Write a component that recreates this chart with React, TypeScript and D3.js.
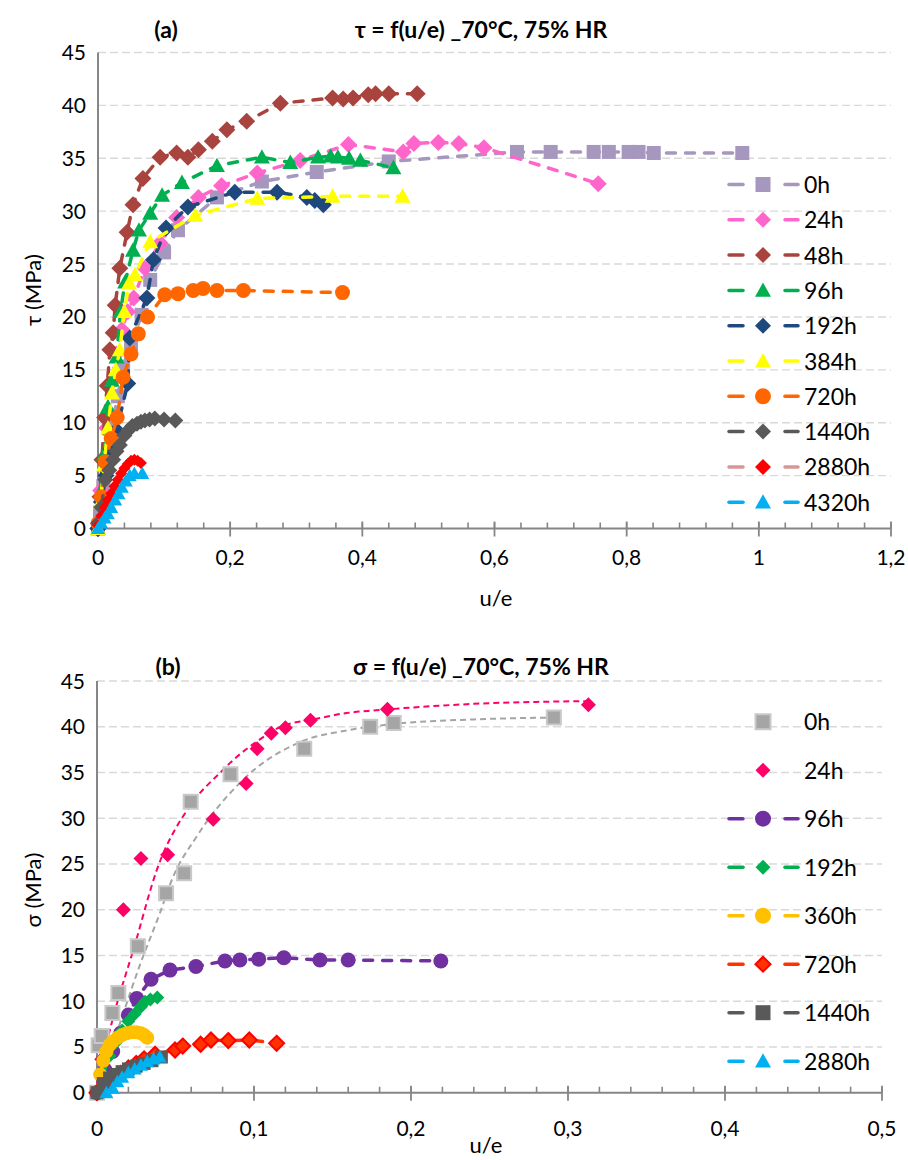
import React from "react";
import * as d3 from "d3";

type Pt = [number, number];

// ---------------- Panel (a): tau = f(u/e) ----------------
const aTitleTag = "(a)";
const aTitle = "τ = f(u/e) _70°C, 75% HR";
const aYTitle = "τ (MPa)";
const aXTicks = [0, 0.2, 0.4, 0.6, 0.8, 1, 1.2];
const aXMinorStep = 0.04;
const aYTicks = [0, 5, 10, 15, 20, 25, 30, 35, 40, 45];
const aLabels = ["0h", "24h", "48h", "96h", "192h", "384h", "720h", "1440h", "2880h", "4320h"];

const a0h: Pt[] = [[0,0],[0.003,1.5],[0.008,4],[0.015,7.5],[0.022,10],[0.03,12.5],[0.038,15.3],[0.05,17.5],[0.066,20.2],[0.079,23.5],[0.1,26.1],[0.121,28.2],[0.18,31.3],[0.248,32.8],[0.331,33.7],[0.44,34.7],[0.634,35.6],[0.685,35.6],[0.75,35.6],[0.773,35.6],[0.803,35.6],[0.818,35.6],[0.841,35.5],[0.975,35.5]];
const a24h: Pt[] = [[0,0],[0.004,3.6],[0.008,6.5],[0.013,9.5],[0.02,13.8],[0.028,16.5],[0.036,18.8],[0.045,20.5],[0.054,21.8],[0.071,24.6],[0.094,27.0],[0.119,29.4],[0.152,31.3],[0.187,32.4],[0.241,33.6],[0.306,34.8],[0.379,36.3],[0.462,35.6],[0.478,36.4],[0.515,36.5],[0.546,36.4],[0.584,36.0],[0.757,32.6]];
const a48h: Pt[] = [[0,0],[0.003,3],[0.006,6.5],[0.01,10.5],[0.014,13.5],[0.018,16.9],[0.023,18.5],[0.026,21.1],[0.033,24.6],[0.044,28.0],[0.053,30.6],[0.068,33.1],[0.094,35.1],[0.119,35.5],[0.136,35.1],[0.152,35.8],[0.173,36.6],[0.195,37.7],[0.225,38.5],[0.276,40.2],[0.355,40.7],[0.371,40.6],[0.386,40.7],[0.409,41.0],[0.42,41.1],[0.44,41.1],[0.483,41.1]];
const a96h: Pt[] = [[0,0],[0.004,3.5],[0.009,7],[0.015,11.5],[0.021,14],[0.028,16.2],[0.034,20.5],[0.041,23.3],[0.053,26.3],[0.062,28.2],[0.079,29.8],[0.097,31.5],[0.127,32.7],[0.18,34.3],[0.248,35.1],[0.291,34.6],[0.333,35.1],[0.352,35.2],[0.363,35.1],[0.38,35.0],[0.397,34.8],[0.447,34.1]];
const a192h: Pt[] = [[0,0],[0.005,2.5],[0.012,5],[0.02,7.5],[0.028,9.3],[0.045,13.7],[0.048,18.0],[0.074,21.8],[0.084,25.4],[0.103,28.4],[0.136,30.4],[0.207,31.8],[0.271,31.8],[0.316,31.3],[0.328,31.0],[0.341,30.6]];
const a384h: Pt[] = [[0,0],[0.004,2.5],[0.009,6],[0.015,9.5],[0.021,12.8],[0.027,15],[0.033,16.9],[0.04,20.5],[0.047,23.2],[0.056,24.0],[0.079,27.1],[0.147,29.6],[0.241,31.2],[0.355,31.4],[0.461,31.4]];
const a720h: Pt[] = [[0,0.5],[0.005,3],[0.011,6.3],[0.02,8.5],[0.029,10.5],[0.038,14.3],[0.05,16.5],[0.061,18.4],[0.075,20],[0.101,22.1],[0.121,22.2],[0.144,22.5],[0.159,22.7],[0.18,22.5],[0.22,22.5],[0.37,22.3]];
const a1440h: Pt[] = [[0,0.5],[0.005,2],[0.011,4.6],[0.017,5.5],[0.023,6.5],[0.028,7.3],[0.033,7.9],[0.04,8.8],[0.046,9.3],[0.052,9.7],[0.059,9.9],[0.065,10.1],[0.071,10.2],[0.078,10.3],[0.086,10.4],[0.1,10.3],[0.117,10.2]];
const a2880h: Pt[] = [[0,0.3],[0.005,1.2],[0.01,2],[0.015,2.7],[0.02,3.3],[0.025,4],[0.03,4.6],[0.035,5.2],[0.04,5.7],[0.045,6.1],[0.05,6.4],[0.055,6.5],[0.06,6.4],[0.065,6.2]];
const a4320h: Pt[] = [[0,0],[0.005,0.5],[0.01,1],[0.015,1.4],[0.02,2],[0.026,2.7],[0.031,3.3],[0.036,3.9],[0.042,4.5],[0.048,5.0],[0.055,5.2],[0.067,5.2]];
const aData = [a0h, a24h, a48h, a96h, a192h, a384h, a720h, a1440h, a2880h, a4320h];

// ---------------- Panel (b): sigma = f(u/e) ----------------
const bTitleTag = "(b)";
const bTitle = "σ = f(u/e) _70°C, 75% HR";
const bYTitle = "σ (MPa)";
const bXTicks = [0, 0.1, 0.2, 0.3, 0.4, 0.5];
const bXMinorStep = 0.02;
const bYTicks = [0, 5, 10, 15, 20, 25, 30, 35, 40, 45];
const bLabels = ["0h", "24h", "96h", "192h", "360h", "720h", "1440h", "2880h"];

const b0h: Pt[] = [[0,0],[0.001,5.2],[0.003,6.2],[0.0098,8.7],[0.0136,10.9],[0.026,16.0],[0.044,21.8],[0.0555,24.0],[0.0597,31.8],[0.085,34.8],[0.132,37.6],[0.174,40.0],[0.189,40.4],[0.291,41.0]];
const b24h: Pt[] = [[0,0],[0.003,3.65],[0.0168,20.0],[0.028,25.6],[0.045,26.0],[0.074,29.9],[0.095,33.8],[0.102,37.6],[0.111,39.3],[0.12,39.9],[0.136,40.7],[0.185,41.9],[0.313,42.4]];
const b96h: Pt[] = [[0,0],[0.005,2.5],[0.01,4.5],[0.015,6.5],[0.02,8.5],[0.0253,10.3],[0.0344,12.4],[0.0465,13.4],[0.063,13.8],[0.0815,14.4],[0.091,14.5],[0.103,14.6],[0.119,14.75],[0.142,14.5],[0.16,14.5],[0.219,14.4]];
const b192h: Pt[] = [[0,0],[0.004,2],[0.008,4],[0.012,5.5],[0.016,6.8],[0.02,7.8],[0.024,8.6],[0.028,9.4],[0.0306,9.95],[0.034,10.2],[0.0384,10.4]];
const b360h: Pt[] = [[0,0],[0.002,2],[0.004,3.5],[0.006,4.5],[0.008,5.2],[0.01,5.6],[0.013,6.0],[0.016,6.3],[0.019,6.5],[0.022,6.6],[0.025,6.6],[0.028,6.5],[0.03,6.3],[0.032,6.0]];
const b720h: Pt[] = [[0,0],[0.005,0.8],[0.01,1.5],[0.015,2.1],[0.02,2.7],[0.025,3.2],[0.03,3.7],[0.037,4.2],[0.0497,4.67],[0.0546,5.1],[0.066,5.3],[0.0726,5.76],[0.0836,5.7],[0.097,5.76],[0.1144,5.4]];
const b1440h: Pt[] = [[0,0],[0.004,1],[0.008,1.6],[0.012,2.0],[0.016,2.3],[0.02,2.6],[0.025,2.9],[0.03,3.2],[0.035,3.5],[0.041,3.9]];
const b2880h: Pt[] = [[0.006,0],[0.01,0.5],[0.013,1.2],[0.016,1.7],[0.02,2.2],[0.024,2.6],[0.028,3.0],[0.032,3.4],[0.036,3.7],[0.04,3.9]];
const bData = [b0h, b24h, b96h, b192h, b360h, b720h, b1440h, b2880h];
// fitted trend curves of 0h and 24h
const b0hTrend: Pt[] = [[0,0],[0.0104,5.4],[0.0168,8.7],[0.027,13.8],[0.04,19.6],[0.048,23.4],[0.0635,28.0],[0.093,34.2],[0.129,38.3],[0.159,39.6],[0.189,40.3],[0.24,40.8],[0.29,41.0]];
const b24hTrend: Pt[] = [[0,1],[0.0104,8.3],[0.024,16.1],[0.038,24.3],[0.059,31.3],[0.078,34.9],[0.089,36.7],[0.102,38.4],[0.117,40.0],[0.138,40.8],[0.159,41.5],[0.178,41.8],[0.24,42.5],[0.312,42.8]];

// ---------------- styles ----------------
type Shape = "square" | "diamond" | "triangle" | "circle";
interface Sty { line: string | null; fill: string; stroke?: string; shape: Shape; size: number; lsize: number; }

const aStyles: Sty[] = [
  { line: "#A597BE", fill: "#A597BE", shape: "square", size: 14, lsize: 15 },
  { line: "#FF66CC", fill: "#FF66CC", shape: "diamond", size: 17, lsize: 16 },
  { line: "#A9433E", fill: "#A9433E", shape: "diamond", size: 17, lsize: 16 },
  { line: "#00B050", fill: "#00B050", shape: "triangle", size: 16, lsize: 16 },
  { line: "#1F497D", fill: "#1F497D", shape: "diamond", size: 17, lsize: 16 },
  { line: "#FFFF00", fill: "#FFFF00", shape: "triangle", size: 16, lsize: 16 },
  { line: "#FF6600", fill: "#FF6600", shape: "circle", size: 15, lsize: 16 },
  { line: "#595959", fill: "#595959", shape: "diamond", size: 16, lsize: 16 },
  { line: "#D99694", fill: "#FF0000", shape: "diamond", size: 12, lsize: 16 },
  { line: "#00B0F0", fill: "#00B0F0", shape: "triangle", size: 14, lsize: 16 },
];
const bStyles: Sty[] = [
  { line: null, fill: "#A5A5A5", stroke: "#C9C9C9", shape: "square", size: 14, lsize: 15 },
  { line: null, fill: "#FF0066", shape: "diamond", size: 15, lsize: 15 },
  { line: "#7030A0", fill: "#7030A0", shape: "circle", size: 15, lsize: 16 },
  { line: "#00B050", fill: "#00B050", shape: "diamond", size: 14, lsize: 15 },
  { line: "#FFC000", fill: "#FFC000", shape: "circle", size: 14, lsize: 16 },
  { line: "#FF3300", fill: "#FF3300", stroke: "#FF0000", shape: "diamond", size: 15, lsize: 15 },
  { line: "#595959", fill: "#595959", shape: "square", size: 13, lsize: 15 },
  { line: "#00B0F0", fill: "#00B0F0", shape: "triangle", size: 14, lsize: 16 },
];
const bTrendColors = ["#A5A5A5", "#FF0066"];

const FONT = "Lato, 'Open Sans', sans-serif";
const AXIS = "#868686";
const GRID = "#D9D9D9";

function markerD(shape: Shape, s: number): string {
  const h = s / 2;
  if (shape === "square") return `M${-h},${-h}H${h}V${h}H${-h}Z`;
  if (shape === "diamond") return `M0,${-h}L${h},0L0,${h}L${-h},0Z`;
  if (shape === "triangle") return `M0,${-h}L${h},${h * 0.8}L${-h},${h * 0.8}Z`;
  return `M${-h},0A${h},${h} 0 1,0 ${h},0A${h},${h} 0 1,0 ${-h},0Z`;
}

const fmt = (v: number) => String(+v.toFixed(3)).replace(".", ",");

interface PanelProps {
  xTicks: number[]; minorStep: number; yTicks: number[];
  x0: number; x1: number; yTop: number; yBot: number;
  data: Pt[][]; styles: Sty[]; labels: string[];
  trends?: Pt[][]; trendColors?: string[];
  titleTag: string; title: string; titleY: number; tagX: number; titleX: number;
  yTitle: string; yTitleY: number; xTitleX: number; xTitleY: number;
  tickLabelY: number;
  legendY0: number; legendStep: number;
}

function Panel(p: PanelProps) {
  const xMax = p.xTicks[p.xTicks.length - 1];
  const yMax = p.yTicks[p.yTicks.length - 1];
  const x = d3.scaleLinear().domain([0, xMax]).range([p.x0, p.x1]);
  const y = d3.scaleLinear().domain([0, yMax]).range([p.yBot, p.yTop]);
  const line = d3.line<Pt>().x((d) => x(d[0])).y((d) => y(d[1]));
  const trendLine = d3.line<Pt>().x((d) => x(d[0])).y((d) => y(d[1])).curve(d3.curveMonotoneX);
  const nMinor = Math.round(xMax / p.minorStep);
  const minors = d3.range(1, nMinor + 1).map((i) => i * p.minorStep);

  return (
    <g fontFamily={FONT}>
      {/* gridlines */}
      {p.yTicks.filter((t) => t > 0).map((t) => (
        <line key={"g" + t} x1={p.x0} x2={p.x1} y1={y(t)} y2={y(t)} stroke={GRID} strokeWidth={1.4} strokeDasharray="8 4" />
      ))}
      {/* axes */}
      <line x1={p.x0} x2={p.x0} y1={y(yMax)} y2={y(0)} stroke={AXIS} strokeWidth={2} />
      <line x1={p.x0} x2={p.x1} y1={y(0)} y2={y(0)} stroke={AXIS} strokeWidth={2} />
      {minors.map((m, i) => (
        <line key={"m" + i} x1={x(m)} x2={x(m)} y1={y(0) - 6} y2={y(0)} stroke={AXIS} strokeWidth={1.6} />
      ))}
      {p.xTicks.map((t) => (
        <line key={"t" + t} x1={x(t)} x2={x(t)} y1={y(0) - 7} y2={y(0) + 8} stroke={AXIS} strokeWidth={1.8} />
      ))}
      {/* tick labels */}
      {p.xTicks.map((t) => (
        <text key={"xl" + t} x={x(t)} y={p.tickLabelY} fontSize={21} textAnchor="middle" fill="#000">{fmt(t)}</text>
      ))}
      {p.yTicks.map((t) => (
        <text key={"yl" + t} x={p.x0 - 12} y={y(t) + 7.5} fontSize={21} textAnchor="end" fill="#000">{fmt(t)}</text>
      ))}
      {/* titles */}
      <text x={p.tagX} y={p.titleY} fontSize={23} fontWeight="bold" textAnchor="middle">{p.titleTag}</text>
      <text x={p.titleX} y={p.titleY} fontSize={23} fontWeight="bold" textAnchor="middle">{p.title}</text>
      <text transform={`translate(41,${p.yTitleY}) rotate(-90)`} fontSize={22} textAnchor="middle">{p.yTitle}</text>
      <text x={p.xTitleX} y={p.xTitleY} fontSize={22} textAnchor="middle">u/e</text>

      {/* trend curves */}
      {p.trends && p.trends.map((tr, i) => (
        <path key={"tr" + i} d={trendLine(tr) || ""} fill="none" stroke={p.trendColors![i]} strokeWidth={2} strokeDasharray="6 4" />
      ))}
      {/* series */}
      {p.data.map((s, i) => {
        const st = p.styles[i];
        return (
          <g key={"s" + i}>
            {st.line && (
              <path d={line(s) || ""} fill="none" stroke={st.line} strokeWidth={3.5} strokeDasharray="9 10" strokeLinecap="round" />
            )}
            {s.map((d, j) => (
              <path key={j} transform={`translate(${x(d[0])},${y(d[1])})`} d={markerD(st.shape, st.size)} fill={st.fill}
                stroke={st.stroke || "none"} strokeWidth={st.stroke ? 2 : 0} />
            ))}
          </g>
        );
      })}
      {/* legend */}
      {p.labels.map((lab, i) => {
        const st = p.styles[i];
        const ly = p.legendY0 + i * p.legendStep;
        return (
          <g key={"l" + i}>
            {st.line && (
              <>
                <line x1={729} x2={743} y1={ly} y2={ly} stroke={st.line} strokeWidth={3.5} strokeLinecap="round" />
                <line x1={785} x2={798} y1={ly} y2={ly} stroke={st.line} strokeWidth={3.5} strokeLinecap="round" />
              </>
            )}
            <path transform={`translate(763,${ly})`} d={markerD(st.shape, st.lsize)} fill={st.fill}
              stroke={st.stroke || "none"} strokeWidth={st.stroke ? 2 : 0} />
            <text x={804} y={ly + 8.5} fontSize={23} fill="#000">{lab}</text>
          </g>
        );
      })}
    </g>
  );
}

export default function App() {
  return (
    <svg width={908} height={1160} viewBox="0 0 908 1160"
      style={{ position: "absolute", left: 0, top: 0, background: "#fff" }}>
      <rect width={908} height={1160} fill="#fff" />
      <Panel xTicks={aXTicks} minorStep={aXMinorStep} yTicks={aYTicks}
        x0={98} x1={891} yTop={52.5} yBot={528.5}
        data={aData} styles={aStyles} labels={aLabels}
        titleTag={aTitleTag} title={aTitle} titleY={38} tagX={166} titleX={481}
        yTitle={aYTitle} yTitleY={290} xTitleX={496} xTitleY={606}
        tickLabelY={565} legendY0={184.5} legendStep={35.3} />
      <Panel xTicks={bXTicks} minorStep={bXMinorStep} yTicks={bYTicks}
        x0={97} x1={882} yTop={681} yBot={1092.7}
        data={bData} styles={bStyles} labels={bLabels}
        trends={[b0hTrend, b24hTrend]} trendColors={bTrendColors}
        titleTag={bTitleTag} title={bTitle} titleY={675} tagX={168} titleX={481}
        yTitle={bYTitle} yTitleY={890} xTitleX={486} xTitleY={1153}
        tickLabelY={1136} legendY0={721.7} legendStep={48.5} />
    </svg>
  );
}
